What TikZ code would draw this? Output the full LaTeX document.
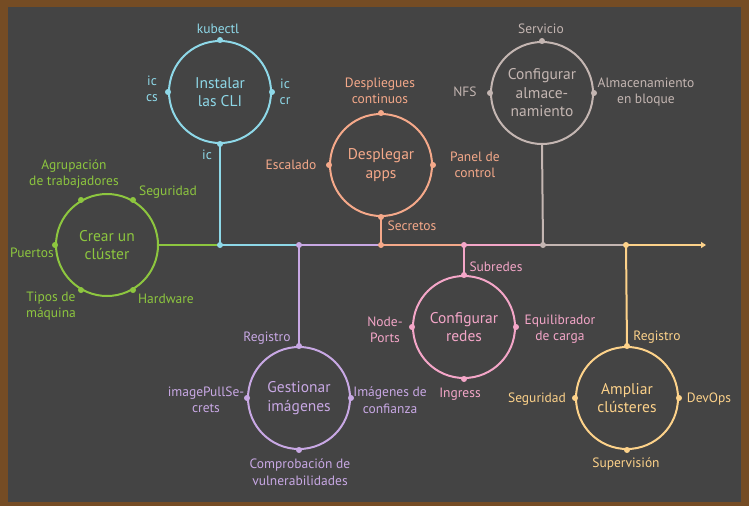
\documentclass[tikz,border=0pt]{standalone}
\usepackage{fontspec}
\setmainfont{PT Sans}
\usepackage{tikz}
\usetikzlibrary{arrows.meta}

\definecolor{frame}{HTML}{754C24}
\definecolor{board}{HTML}{444444}
\definecolor{cgreen}{HTML}{8DC63F}
\definecolor{ccyan}{HTML}{8ED8E8}
\definecolor{csalmon}{HTML}{F5A98A}
\definecolor{cgrey}{HTML}{C4B6B2}
\definecolor{cpurple}{HTML}{C8A8E4}
\definecolor{cpink}{HTML}{F4A6C8}
\definecolor{cyellow}{HTML}{FDD28A}

\tikzset{
	stage/.style={circle, draw, line width=2pt, minimum size=102pt, inner sep=0pt,
		align=center, font=\fontsize{15.5}{18.5}\selectfont},
	tag/.style={align=center, inner sep=0pt, font=\fontsize{13.5}{16.5}\selectfont},
	joint/.style={line width=2pt}
}

\begin{document}
\begin{tikzpicture}[x=1pt, y=-1pt]
	% frame
	\useasboundingbox (0,0) rectangle (749,506);
	\fill[frame] (0,0) rectangle (749,506);
	\fill[board] (8,7) rectangle (741,502);

	% stages
	\node [stage, draw=cgreen, text=cgreen] (cluster) at (107,245) {Crear un\\clúster};
	\node [stage, draw=ccyan, text=ccyan] (cli) at (220,92) {Instalar\\las CLI};
	\node [stage, draw=csalmon, text=csalmon] (apps) at (381,165) {Desplegar\\apps};
	\node [stage, draw=cgrey, text=cgrey] (storage) at (542,93) {Configurar\\almace-\\namiento};
	\node [stage, draw=cpurple, text=cpurple] (images) at (299,398) {Gestionar\\imágenes};
	\node [stage, draw=cpink, text=cpink] (network) at (464,327) {Configurar\\redes};
	\node [stage, draw=cyellow, text=cyellow] (scale) at (627,398) {Ampliar\\clústeres};

	% timeline
	\coordinate (j1) at (220,245);
	\coordinate (j2) at (299,245);
	\coordinate (j3) at (381,245);
	\coordinate (j4) at (464,245);
	\coordinate (j5) at (543,245);
	\coordinate (j6) at (626,245);
	\coordinate (end) at (706,245);
	\begin{scope}[joint]
		\draw [cgreen] (cluster.east) -- (j1);
		\draw [ccyan] (j1) -- (j2);
		\draw [cpurple] (j2) -- (j3);
		\draw [csalmon] (j3) -- (j4);
		\draw [cpink] (j4) -- (j5);
		\draw [cgrey] (j5) -- (j6);
		\draw [cyellow, -{Triangle[length=5pt,width=6pt]}] (j6) -- (end);
		\draw [ccyan] (cli.south) -- (j1);
		\draw [cpurple] (j2) -- (images.north);
		\draw [csalmon] (apps.south) -- (j3);
		\draw [cpink] (j4) -- (network.north);
		\draw [cgrey] (storage.south) -- (j5);
		\draw [cyellow] (j6) -- (scale.north);
	\end{scope}

	% dots
	\foreach \a in {60,120,180,240,300} \fill [cgreen] (cluster.\a) circle (3pt);
	\foreach \a in {north,west,east,south} {
		\fill [ccyan] (cli.\a) circle (3pt);
		\fill [csalmon] (apps.\a) circle (3pt);
		\fill [cpurple] (images.\a) circle (3pt);
		\fill [cpink] (network.\a) circle (3pt);
		\fill [cyellow] (scale.\a) circle (3pt);
	}
	\foreach \a in {north,west,east} \fill [cgrey] (storage.\a) circle (3pt);
	\fill [ccyan] (j1) circle (3pt);
	\fill [cpurple] (j2) circle (3pt);
	\fill [csalmon] (j3) circle (3pt);
	\fill [cpink] (j4) circle (3pt);
	\fill [cgrey] (j5) circle (3pt);
	\fill [cyellow] (j6) circle (3pt);

	% tags
	\begin{scope}[every node/.append style={tag, text=cgreen}]
		\node (workers) at (74,174) {Agrupación\\de trabajadores};
		\node (security) at (168,192) {Seguridad};
		\node (ports) at (32,253) {Puertos};
		\node (machine) at (51,306) {Tipos de\\máquina};
		\node (hardware) at (166,299) {Hardware};
	\end{scope}
	\begin{scope}[every node/.append style={tag, text=ccyan}]
		\node (kubectl) at (218,29) {kubectl};
		\node (iccs) at (152,89) {ic\\cs};
		\node (iccr) at (285,92) {ic\\cr};
		\node (ic) at (207,155) {ic};
	\end{scope}
	\begin{scope}[every node/.append style={tag, text=csalmon}]
		\node (continuous) at (380,91) {Despliegues\\continuos};
		\node (scaling) at (291,165) {Escalado};
		\node (dashboard) at (475,165) {Panel de\\control};
		\node (secrets) at (412,226) {Secretos};
	\end{scope}
	\begin{scope}[every node/.append style={tag, text=cgrey}]
		\node (service) at (541,29) {Servicio};
		\node (nfs) at (465,92) {NFS};
		\node (block) at (646,92) {Almacenamiento\\en bloque};
	\end{scope}
	\begin{scope}[every node/.append style={tag, text=cpurple}]
		\node (registry) at (267,338) {Registro};
		\node (pullsecrets) at (206,400) {imagePullSe-\\crets};
		\node (trusted) at (390,400) {Imágenes de\\confianza};
		\node (vulns) at (300,472) {Comprobación de\\vulnerabilidades};
	\end{scope}
	\begin{scope}[every node/.append style={tag, text=cpink}]
		\node (subnets) at (496,267) {Subredes};
		\node (nodeports) at (385,330) {Node-\\Ports};
		\node (balancer) at (560,329) {Equilibrador\\de carga};
		\node (ingress) at (460,394) {Ingress};
	\end{scope}
	\begin{scope}[every node/.append style={tag, text=cyellow}]
		\node (registry2) at (657,337) {Registro};
		\node (security2) at (537,399) {Seguridad};
		\node (devops) at (709,399) {DevOps};
		\node (monitoring) at (626,464) {Supervisión};
	\end{scope}
\end{tikzpicture}
\end{document}
